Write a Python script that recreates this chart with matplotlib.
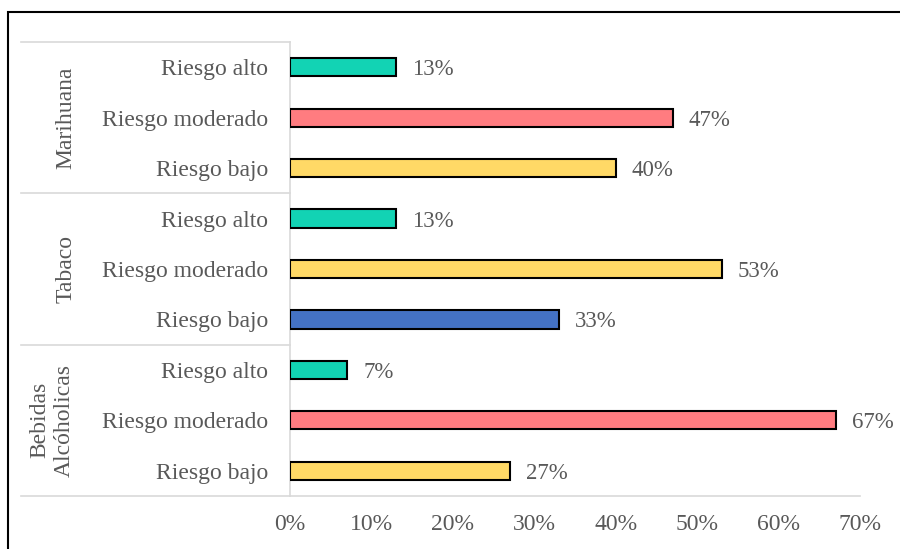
import matplotlib.pyplot as plt
from matplotlib.patches import Rectangle
from matplotlib.ticker import PercentFormatter

plt.rcParams['font.family'] = ['Liberation Serif', 'DejaVu Serif']

# filas de abajo hacia arriba
grupos = ['Bebidas\nAlcóholicas', 'Tabaco', 'Marihuana']
niveles = ['Riesgo bajo', 'Riesgo moderado', 'Riesgo alto']
valores = [27, 67, 7,    # Bebidas Alcóholicas
           33, 53, 13,   # Tabaco
           40, 47, 13]   # Marihuana
colores = ['#FFD966', '#FF7C80', '#12D3B4',
           '#4472C4', '#FFD966', '#12D3B4',
           '#FFD966', '#FF7C80', '#12D3B4']

gris = '#595959'
linea = '#D9D9D9'
fs = 17

fig = plt.figure(figsize=(9, 5.49), dpi=100)
ax = fig.add_axes([290 / 900, 1 - 496 / 549, 570 / 900, 454 / 549])

etiquetas = niveles * len(grupos)
pos = list(range(len(valores)))
ax.barh(pos, [v / 100 for v in valores], height=0.36, color=colores,
        edgecolor='black', linewidth=1.5, zorder=3)

for y, v in zip(pos, valores):
    ax.text(v / 100 + 0.02, y, f'{v}%', va='center_baseline', ha='left',
            fontsize=16.5, color=gris)

ax.set_xlim(0, 0.7)
ax.set_ylim(-0.5, len(valores) - 0.5)
ax.set_xticks([i / 10 for i in range(8)])
ax.xaxis.set_major_formatter(PercentFormatter(1.0, decimals=0))
ax.set_yticks(pos)
ax.set_yticklabels(etiquetas)
ax.tick_params(axis='y', length=0, pad=16, labelsize=fs, labelcolor=gris)
ax.tick_params(axis='x', length=0, pad=13, labelsize=fs, labelcolor=gris)

for s in ['top', 'right']:
    ax.spines[s].set_visible(False)
ax.spines['left'].set_color(linea)
ax.spines['bottom'].set_color(linea)
ax.spines['left'].set_linewidth(1.2)
ax.spines['bottom'].set_linewidth(1.2)

# separadores y nombres de grupo a la izquierda del eje
trans = ax.get_yaxis_transform()
x0 = (21 - 290) / 570
for k in range(len(grupos) + 1):
    yb = 3 * k - 0.5
    ax.plot([x0, 0], [yb, yb], color=linea, lw=1.2, transform=trans,
            clip_on=False)
for k, g in enumerate(grupos):
    xg = (66 - 290) / 570 if '\n' not in g else (52 - 290) / 570
    ax.text(xg, 3 * k + 1, g, rotation=90, ha='center', va='center',
            fontsize=fs, color=gris, transform=trans, linespacing=1.25)

# marco del gráfico
fig.patches.append(Rectangle((8 / 900, -0.05), 1.1, 1 - 12 / 549 + 0.05,
                             transform=fig.transFigure, fill=False,
                             edgecolor='black', linewidth=1.5))

fig.savefig('out.png', dpi=100)
